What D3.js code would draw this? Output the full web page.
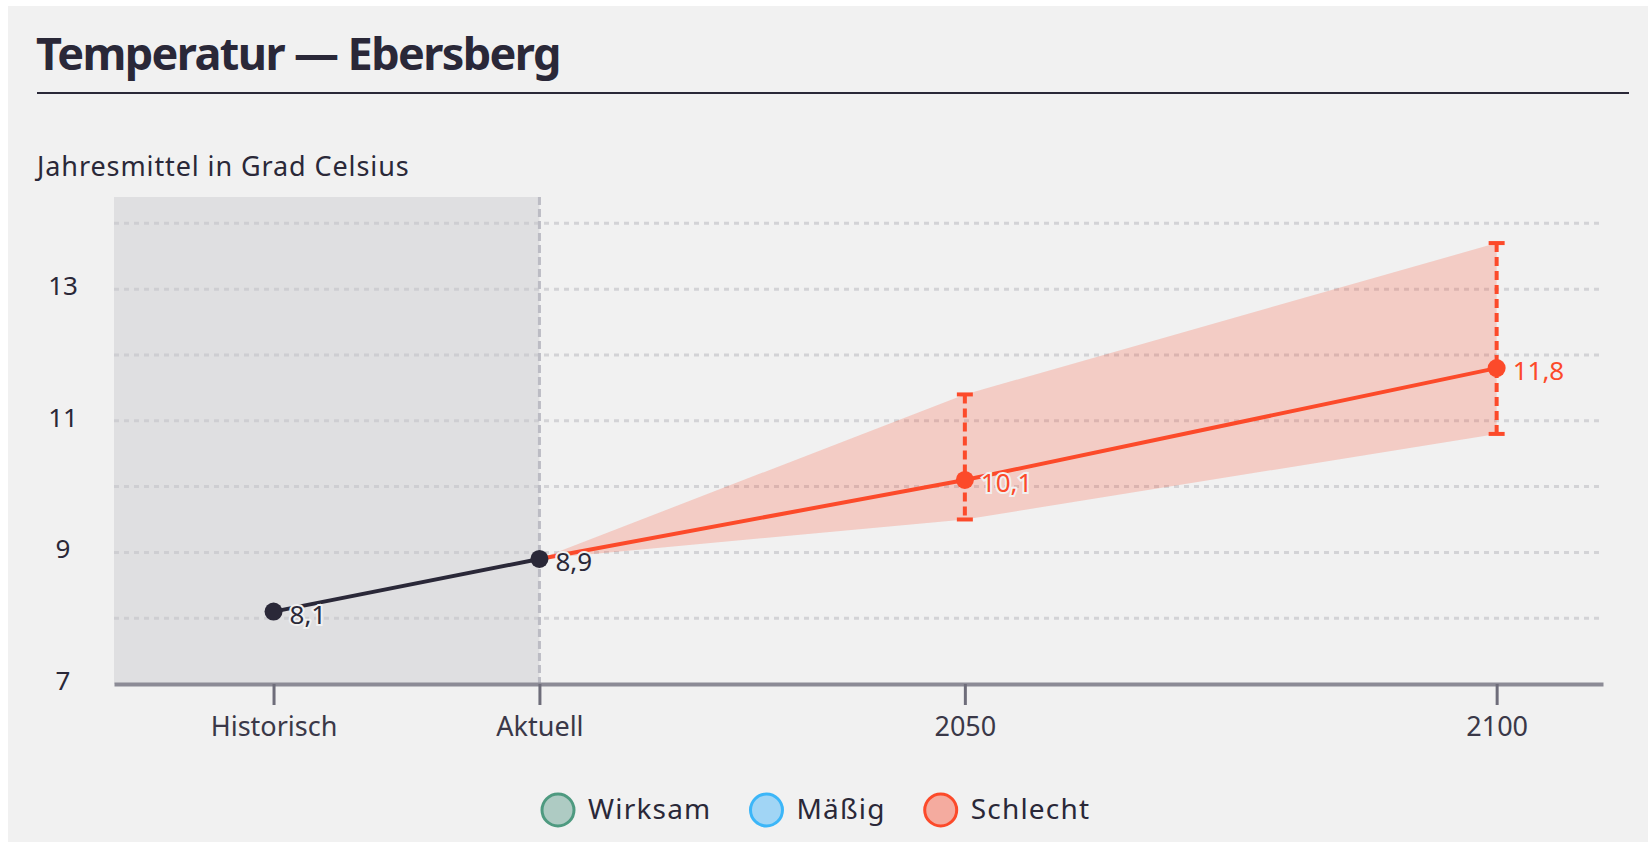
<!DOCTYPE html>
<html>
<head>
<meta charset="utf-8">
<script src="https://cdn.jsdelivr.net/npm/d3@7"></script>
<style>
  html, body { margin: 0; padding: 0; background: #ffffff; }
  svg { display: block; font-family: 'Noto Sans', sans-serif; }
</style>
</head>
<body>
<svg width="1648" height="842"></svg>
<script>
(function() {
  // data
  var categories = ['Historisch', 'Aktuell', '2050', '2100']
  var years = [1985, 2010, 2050, 2100]
  var values = [8.1, 8.9, 10.1, 11.8]
  var lower = [null, 8.9, 9.5, 10.8]
  var upper = [null, 8.9, 11.4, 13.7]
  var yTicks = [7, 9, 11, 13]
  var gridValues = [8, 9, 10, 11, 12, 13, 14]
  var legendLabels = ['Wirksam', 'Mäßig', 'Schlecht']
  var legendFill = ['#aecbc3', '#a1d5f5', '#f4ab9f']
  var legendStroke = ['#4e9a80', '#3cb6f8', '#fc4a2a']

  var dark = '#2a2838'
  var orange = '#fc4a2a'
  var bg = '#f1f1f1'

  var locale = d3.formatLocale({decimal: ',', thousands: '.', grouping: [3], currency: ['', ' €']})
  var fmt = locale.format('.1f')

  var svg = d3.select('svg')

  // background
  svg.append('rect')
    .attr('x', 8).attr('y', 6)
    .attr('width', 1640).attr('height', 836)
    .attr('fill', bg)

  // title
  svg.append('text')
    .attr('x', 36).attr('y', 70)
    .attr('font-size', 45)
    .attr('font-weight', 700)
    .attr('letter-spacing', -1.6)
    .attr('fill', dark)
    .text('Temperatur — Ebersberg')

  svg.append('line')
    .attr('x1', 37).attr('x2', 1629)
    .attr('y1', 93).attr('y2', 93)
    .attr('stroke', dark)
    .attr('stroke-width', 2)

  svg.append('text')
    .attr('x', 37).attr('y', 176)
    .attr('font-size', 27)
    .attr('letter-spacing', 0.9)
    .attr('fill', dark)
    .text('Jahresmittel in Grad Celsius')

  // scales
  var x = d3.scaleLinear().domain([1970, 2110]).range([114, 1603])
  var y = d3.scaleLinear().domain([7, 14.4]).range([684, 197])

  // past panel
  svg.append('rect')
    .attr('x', x(1970))
    .attr('y', y(14.4))
    .attr('width', x(years[1]) - x(1970))
    .attr('height', y(7) - y(14.4))
    .attr('fill', '#dfdfe1')

  // grid
  svg.append('g')
    .selectAll('line')
    .data(gridValues)
    .join('line')
      .attr('x1', x(1970))
      .attr('x2', x(2110))
      .attr('y1', function(d) { return y(d) })
      .attr('y2', function(d) { return y(d) })
      .attr('stroke', '#c9c9ce')
      .attr('stroke-width', 3)
      .attr('stroke-dasharray', '5 5')
      .attr('opacity', 0.75)

  // y labels
  svg.append('g')
    .selectAll('text')
    .data(yTicks)
    .join('text')
      .attr('x', 63)
      .attr('y', function(d) { return y(d) + 6 })
      .attr('text-anchor', 'middle')
      .attr('font-size', 26)
      .attr('fill', dark)
      .text(function(d) { return d })

  // divider at Aktuell
  svg.append('line')
    .attr('x1', x(years[1])).attr('x2', x(years[1]))
    .attr('y1', y(14.4)).attr('y2', y(7))
    .attr('stroke', '#bcbcc4')
    .attr('stroke-width', 3)
    .attr('stroke-dasharray', '8 4')

  // projection band
  var proj = d3.range(1, years.length)
  var area = d3.area()
    .x(function(i) { return x(years[i]) })
    .y0(function(i) { return y(lower[i]) })
    .y1(function(i) { return y(upper[i]) })
  svg.append('path')
    .datum(proj)
    .attr('d', area)
    .attr('fill', orange)
    .attr('fill-opacity', 0.22)

  // x axis
  var xAxis = d3.axisBottom(x)
    .tickValues(years)
    .tickFormat(function(d, i) { return categories[i] })
    .tickSize(21)
    .tickSizeOuter(0)
    .tickPadding(12)
  var gx = svg.append('g')
    .attr('transform', 'translate(0,' + y(7) + ')')
    .call(xAxis)
  gx.select('.domain').attr('stroke', '#8c8b96').attr('stroke-width', 4)
  gx.selectAll('.tick line').attr('stroke', '#6e6d7a').attr('stroke-width', 3)
  gx.selectAll('.tick text')
    .attr('font-size', 27)
    .attr('font-family', "'Noto Sans', sans-serif")
    .attr('fill', '#3a3848')

  // error bars
  var errIdx = [2, 3]
  errIdx.forEach(function(i) {
    var cx = x(years[i])
    svg.append('line')
      .attr('x1', cx).attr('x2', cx)
      .attr('y1', y(upper[i])).attr('y2', y(lower[i]))
      .attr('stroke', orange)
      .attr('stroke-width', 4)
      .attr('stroke-dasharray', '9 5')
    ;[upper[i], lower[i]].forEach(function(v) {
      svg.append('line')
        .attr('x1', cx - 8).attr('x2', cx + 8)
        .attr('y1', y(v)).attr('y2', y(v))
        .attr('stroke', orange)
        .attr('stroke-width', 4)
    })
  })

  // lines
  var line = d3.line()
    .x(function(i) { return x(years[i]) })
    .y(function(i) { return y(values[i]) })
  svg.append('path')
    .datum(proj)
    .attr('d', line)
    .attr('fill', 'none')
    .attr('stroke', orange)
    .attr('stroke-width', 4)
  svg.append('path')
    .datum([0, 1])
    .attr('d', line)
    .attr('fill', 'none')
    .attr('stroke', dark)
    .attr('stroke-width', 4)

  // points + labels
  years.forEach(function(yr, i) {
    var c = i < 2 ? dark : orange
    svg.append('circle')
      .attr('cx', x(yr))
      .attr('cy', y(values[i]))
      .attr('r', 9)
      .attr('fill', c)
    svg.append('text')
      .attr('x', x(yr) + 16)
      .attr('y', y(values[i]) + 12)
      .attr('font-size', 26)
      .attr('fill', c)
      .attr('stroke', bg)
      .attr('stroke-width', 4)
      .attr('paint-order', 'stroke')
      .text(fmt(values[i]))
  })

  // legend
  var lx = 558
  legendLabels.forEach(function(name, i) {
    svg.append('circle')
      .attr('cx', lx).attr('cy', 810)
      .attr('r', 16)
      .attr('fill', legendFill[i])
      .attr('stroke', legendStroke[i])
      .attr('stroke-width', 3)
    var t = svg.append('text')
      .attr('x', lx + 30).attr('y', 819)
      .attr('font-size', 28)
      .attr('letter-spacing', 1.2)
      .attr('fill', dark)
      .text(name)
    lx = lx + 30 + t.node().getComputedTextLength() + 37 + 18
  })
})();
</script>
</body>
</html>
